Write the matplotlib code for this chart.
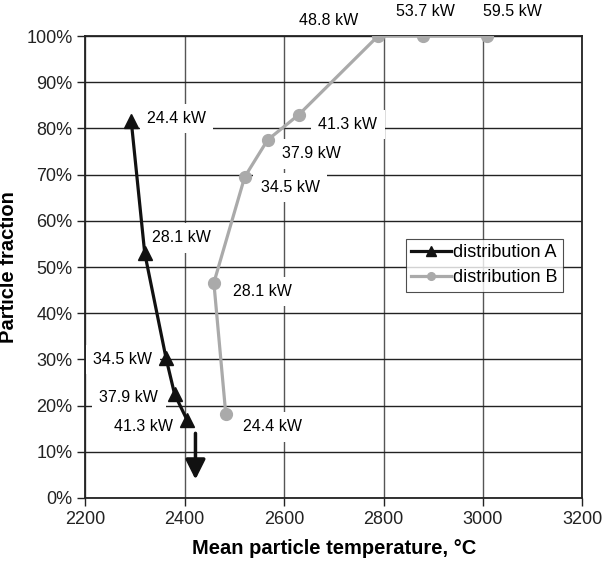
import matplotlib
matplotlib.use("Agg")
import matplotlib.pyplot as plt
from matplotlib.patches import ArrowStyle

plt.rcParams["font.family"] = ["Liberation Sans", "DejaVu Sans"]

# distribution A (triangles) and B (circles): mean temperature vs particle fraction
temp_a = [2293, 2320, 2363, 2380, 2405]
frac_a = [81.5, 53.0, 30.2, 22.5, 16.9]
power_a = ["24.4 kW", "28.1 kW", "34.5 kW", "37.9 kW", "41.3 kW"]

temp_b = [2483, 2459, 2521, 2567, 2630, 2789, 2880, 3008]
frac_b = [18.1, 46.6, 69.5, 77.5, 83.0, 100.0, 100.0, 100.0]
power_b = ["24.4 kW", "28.1 kW", "34.5 kW", "37.9 kW", "41.3 kW",
           "48.8 kW", "53.7 kW", "59.5 kW"]

# label anchor (left edge, vertical centre) for each point
lab_a = [(2325, 82.2), (2334, 56.3), (2217, 30.0), (2229, 21.8), (2259, 15.4)]
lab_b = [(2518, 15.4), (2497, 44.7), (2553, 67.2), (2595, 74.5), (2669, 80.9),
         (2631, 103.4), (2825, 105.3), (3000, 105.3)]

# arrow below distribution A: higher power pushes the fraction further down
arrow_x = 2422
arrow_from, arrow_to = 14.0, 4.0

xticks = [2200, 2400, 2600, 2800, 3000, 3200]
yticks = list(range(0, 101, 10))

fig = plt.figure(figsize=(6.03, 5.61), dpi=100)
ax = fig.add_axes([0.141, 0.1123, 0.825, 0.8235])

ax.plot(temp_a, frac_a, "-^", color="#111111", lw=2.3, ms=10,
        label="distribution A", zorder=5)
ax.plot(temp_b, frac_b, "-o", color="#aaaaaa", lw=2.3, ms=8.5,
        label="distribution B", zorder=5)

box = dict(facecolor="white", edgecolor="none", boxstyle="square,pad=0.45")
for (x, y), s in zip(lab_a + lab_b, power_a + power_b):
    ax.text(x, y, s, fontsize=11.5, ha="left", va="center", bbox=box,
            zorder=4, clip_on=False)

ax.annotate("", xy=(arrow_x, arrow_to), xytext=(arrow_x, arrow_from),
            arrowprops=dict(arrowstyle=ArrowStyle("-|>", head_length=1.2, head_width=0.6),
                            mutation_scale=10, lw=2.5, color="#111111",
                            shrinkA=0, shrinkB=0), zorder=5)

ax.set_xlim(2200, 3200)
ax.set_ylim(0, 100)
ax.set_xticks(xticks)
ax.set_yticks(yticks)
ax.set_yticklabels([f"{t}%" for t in yticks])
ax.tick_params(labelsize=13, length=5.5, width=1, direction="out", colors="#222222")
ax.tick_params(axis="x", pad=4)
ax.grid(axis="y", color="#222222", lw=1)
ax.grid(axis="x", color="#555555", lw=1)
ax.set_axisbelow(True)
for sp in ax.spines.values():
    sp.set_color("#222222")
    sp.set_linewidth(1.3)

ax.set_xlabel("Mean particle temperature, °C", fontsize=14.5, fontweight="bold", labelpad=8)
ax.set_ylabel("Particle fraction", fontsize=14.5, fontweight="bold", labelpad=6)

leg = ax.legend(loc="upper left", bbox_to_anchor=(0.645, 0.561), fontsize=13,
                frameon=True, fancybox=False, borderpad=0.3, handlelength=2.2,
                handletextpad=0.1, labelspacing=0.45, borderaxespad=0,
                markerscale=0.65)
leg.get_frame().set_edgecolor("#222222")
leg.get_frame().set_linewidth(0.8)

fig.savefig("out.png", dpi=100)
